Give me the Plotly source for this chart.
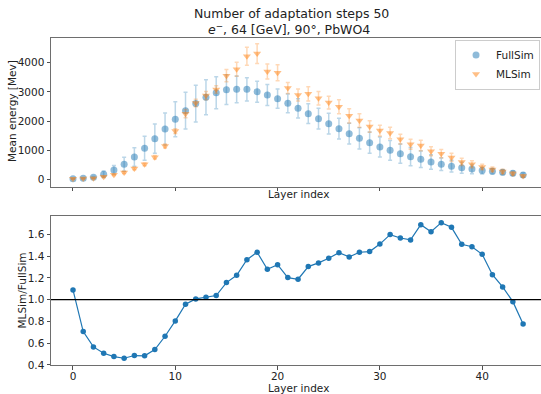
import plotly.graph_objects as go

layers = list(range(45))
full = [20, 35, 70, 170, 320, 514, 765, 1063, 1393, 1725, 2058, 2353, 2600, 2813, 2972,
        3075, 3087, 3087, 3005, 2892, 2766, 2606, 2435, 2252, 2080, 1908, 1737, 1565,
        1406, 1257, 1109, 995, 880, 777, 686, 593, 515, 450, 395, 350, 300, 275, 240, 206, 148]
full_err = [10, 15, 30, 115, 150, 240, 320, 410, 500, 550, 600, 630, 630, 600, 550, 510,
            460, 400, 360, 360, 330, 320, 330, 340, 355, 355, 355, 355, 365, 365, 340, 340,
            330, 310, 285, 250, 215, 200, 190, 160, 115, 95, 80, 80, 80]
ml = [22, 25, 40, 86, 152, 237, 372, 513, 754, 1144, 1655, 2252, 2616, 2872, 3082, 3555,
      3779, 4220, 4312, 3699, 3654, 3132, 2890, 2934, 2781, 2633, 2486, 2178, 2018, 1811,
      1673, 1589, 1378, 1203, 1158, 963, 880, 750, 596, 520, 425, 338, 268, 202, 115]
ml_err = [10, 10, 15, 20, 25, 35, 45, 50, 60, 70, 80, 140, 130, 140, 130, 210, 240, 310,
          340, 260, 275, 190, 205, 245, 230, 220, 240, 245, 230, 200, 185, 200, 170, 170,
          180, 155, 140, 140, 125, 120, 95, 80, 75, 55, 40]
ratio = [1.089, 0.706, 0.565, 0.507, 0.476, 0.461, 0.486, 0.483, 0.541, 0.663, 0.804,
         0.957, 1.006, 1.021, 1.037, 1.156, 1.224, 1.367, 1.435, 1.279, 1.321, 1.202,
         1.187, 1.303, 1.337, 1.380, 1.431, 1.392, 1.435, 1.441, 1.510, 1.597, 1.566,
         1.548, 1.688, 1.624, 1.707, 1.664, 1.508, 1.486, 1.416, 1.229, 1.116, 0.981, 0.776]
ref_level = 1.0

title1 = "Number of adaptation steps 50"
title2 = "<i>e</i><sup>−</sup>, 64 [GeV], 90°, PbWO4"

W, H = 541, 394
L = 51
font = "DejaVu Sans"
txt = "#222"

def px_x(p):
    return (p - L) / (W - L)

def px_y(p):
    return (H - p) / H

fig = go.Figure()
fig.add_trace(go.Scatter(
    x=layers, y=full, mode="markers", name="FullSim",
    marker=dict(symbol="circle", size=7, color="rgba(31,119,180,0.5)", line=dict(width=0)),
    error_y=dict(type="data", array=full_err, visible=True, color="rgba(31,119,180,0.3)",
                 thickness=1.5, width=2),
    xaxis="x", yaxis="y"))
fig.add_trace(go.Scatter(
    x=layers, y=ml, mode="markers", name="MLSim",
    marker=dict(symbol="triangle-down", size=7, color="rgba(255,127,14,0.5)", line=dict(width=0)),
    error_y=dict(type="data", array=ml_err, visible=True, color="rgba(255,127,14,0.3)",
                 thickness=1.5, width=2),
    xaxis="x", yaxis="y"))
fig.add_trace(go.Scatter(
    x=layers, y=ratio, mode="lines+markers", showlegend=False,
    line=dict(color="#1f77b4", width=1.2),
    marker=dict(symbol="circle", size=5.5, color="#1f77b4"),
    xaxis="x2", yaxis="y2"))

axcommon = dict(showgrid=False, zeroline=False, showline=True, mirror=True,
                linecolor="rgb(110,110,110)", linewidth=1, ticks="outside", ticklen=3.5,
                tickcolor="rgb(80,80,80)", tickwidth=1, automargin=False,
                tickfont=dict(family=font, size=10.5, color=txt))

xr = [-2.15, 45.75]
fig.update_layout(
    width=W, height=H,
    margin=dict(l=L, r=0, t=0, b=0),
    paper_bgcolor="white", plot_bgcolor="white",
    font=dict(family=font, color=txt),
    xaxis=dict(domain=[0, 1], range=xr, tickvals=[0, 10, 20, 30, 40], showticklabels=False,
               anchor="y", **axcommon),
    yaxis=dict(domain=[px_y(186.7), px_y(37.7)], range=[-254, 4858],
               tickvals=[0, 1000, 2000, 3000, 4000], anchor="x", **axcommon),
    xaxis2=dict(domain=[0, 1], range=xr, tickvals=[0, 10, 20, 30, 40], anchor="y2",
                ticklabelstandoff=-2, **axcommon),
    yaxis2=dict(domain=[px_y(365), px_y(216)], range=[0.399, 1.768],
                tickvals=[0.4, 0.6, 0.8, 1.0, 1.2, 1.4, 1.6], tickformat=".1f",
                anchor="x2", **axcommon),
    legend=dict(x=0.998, y=px_y(39.5), xanchor="right", yanchor="top",
                bgcolor="rgba(255,255,255,0.8)", bordercolor="#ccc", borderwidth=1,
                font=dict(family=font, size=10.5, color=txt), tracegroupgap=0,
                itemwidth=30),
    showlegend=True,
)

fig.add_shape(type="line", xref="x2 domain", yref="y2", x0=0, x1=1, y0=ref_level, y1=ref_level,
              line=dict(color="black", width=1.2))

anns = [
    dict(text=title1, x=px_x(291), y=px_y(13.5), size=12.5, angle=0),
    dict(text=title2, x=px_x(289), y=px_y(29.5), size=12.5, angle=0),
    dict(text="Layer index", x=px_x(298), y=px_y(193.5), size=10.5, angle=0),
    dict(text="Layer index", x=px_x(298), y=px_y(387.5), size=10.5, angle=0),
    dict(text="Mean energy [Mev]", x=px_x(12), y=px_y(111), size=10.5, angle=-90),
    dict(text="MLSim/FullSim", x=px_x(21.5), y=px_y(291), size=10.5, angle=-90),
]
for a in anns:
    fig.add_annotation(text=a["text"], x=a["x"], y=a["y"], xref="paper", yref="paper",
                       xanchor="center", yanchor="middle", showarrow=False,
                       textangle=a["angle"], font=dict(family=font, size=a["size"], color=txt))

fig.write_html("out.html")
